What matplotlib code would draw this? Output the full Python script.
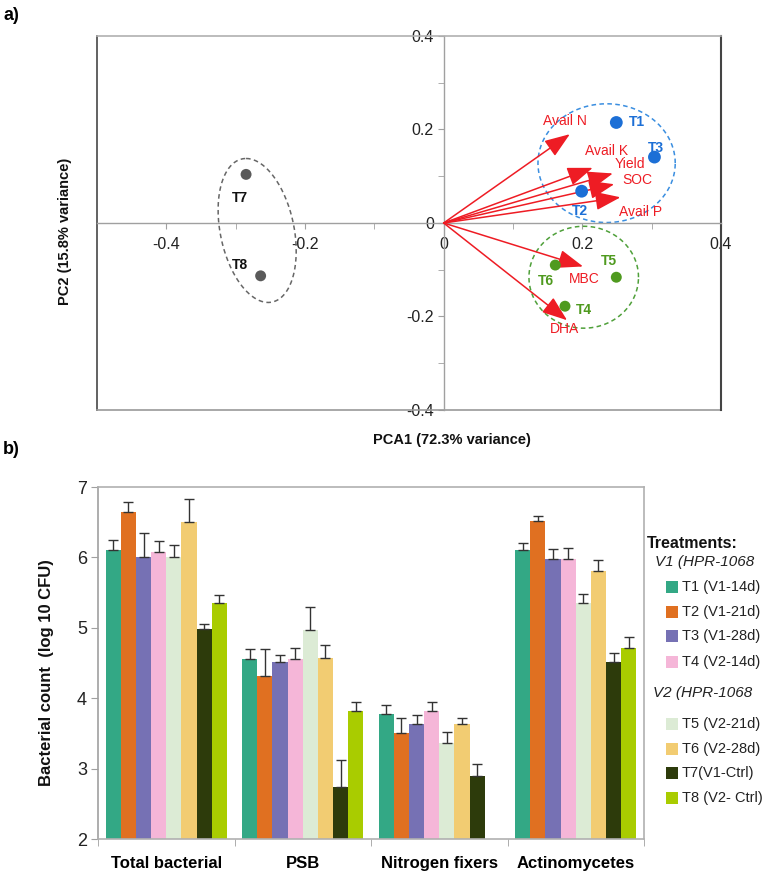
import numpy as np
import matplotlib
matplotlib.use('Agg')
import matplotlib.pyplot as plt
from matplotlib.patches import Rectangle

plt.rcParams['font.family'] = ['Liberation Sans', 'DejaVu Sans']
plt.rcParams['axes.unicode_minus'] = False

# ---------------- Panel a data (PCA biplot) ----------------
treat_names = ['T1', 'T2', 'T3', 'T4', 'T5', 'T6', 'T7', 'T8']
pc1 = [0.249, 0.199, 0.304, 0.175, 0.249, 0.161, -0.285, -0.264]
pc2 = [0.215, 0.068, 0.141, -0.178, -0.116, -0.090, 0.104, -0.113]
treat_cluster = [0, 0, 0, 1, 1, 1, 2, 2]

var_names = ['Avail N', 'Avail K', 'Yield', 'SOC', 'Avail P', 'MBC', 'DHA']
load1 = [0.182, 0.215, 0.244, 0.246, 0.255, 0.201, 0.178]
load2 = [0.190, 0.118, 0.106, 0.083, 0.055, -0.093, -0.208]

# ---------------- Panel b data (bar chart) ----------------
categories = ['Total bacterial', 'PSB', 'Nitrogen fixers', 'Actinomycetes']
series_labels = ['T1 (V1-14d)', 'T2 (V1-21d)', 'T3 (V1-28d)', 'T4 (V2-14d)',
                 'T5 (V2-21d)', 'T6 (V2-28d)', 'T7(V1-Ctrl)', 'T8 (V2- Ctrl)']
t1 = [6.10, 4.55, 3.77, 6.10]
t2 = [6.64, 4.31, 3.50, 6.51]
t3 = [6.00, 4.51, 3.64, 5.98]
t4 = [6.07, 4.55, 3.82, 5.98]
t5 = [6.00, 4.97, 3.36, 5.35]
t6 = [6.50, 4.57, 3.63, 5.81]
t7 = [4.98, 2.74, 2.90, 4.52]
t8 = [5.35, 3.82, np.nan, 4.71]
e1 = [0.15, 0.15, 0.14, 0.11]
e2 = [0.15, 0.39, 0.22, 0.08]
e3 = [0.34, 0.11, 0.12, 0.14]
e4 = [0.17, 0.16, 0.13, 0.15]
e5 = [0.17, 0.33, 0.16, 0.13]
e6 = [0.33, 0.19, 0.09, 0.16]
e7 = [0.07, 0.38, 0.16, 0.12]
e8 = [0.11, 0.13, np.nan, 0.16]
series_vals = [t1, t2, t3, t4, t5, t6, t7, t8]
series_errs = [e1, e2, e3, e4, e5, e6, e7, e8]

# ---------------- styles ----------------
cluster_colors = ['#1c6fd6', '#4f9a1f', '#5a5a5a']
cluster_sizes = [85, 62, 62]
treat_label_off = [(0.030, 0.0), (-0.002, -0.043), (0.002, 0.019), (0.0275, -0.008),
                   (-0.010, 0.035), (-0.014, -0.034), (-0.0095, -0.050), (-0.0305, 0.023)]
var_label_off = [(-0.007, 0.028), (0.020, 0.037), (0.025, 0.020), (0.033, 0.010),
                 (0.029, -0.031), (0.002, -0.0275), (-0.004, -0.018)]
# ellipses: centre, half-axis vector 1, half-axis vector 2 (data units)
ellipses = [((0.235, 0.128), (0.099, 0.0), (0.0, 0.127), '#3a8ee0'),
            ((0.202, -0.116), (0.079, 0.0), (0.0, 0.109), '#4fa03a'),
            ((-0.269, -0.016), (-0.016, 0.154), (0.054, 0.0), '#666666')]
bar_colors = ['#33a885', '#e07021', '#7671b4', '#f5b6d8', '#dcebd5', '#f2cc72', '#2d3b0b', '#a9cc00']

W, H = 767, 874
fig = plt.figure(figsize=(W / 100, H / 100), dpi=100)


def fx(x):
    return x / W


def fy(y):
    return 1 - y / H


# ================= Panel a =================
axL, axR, axT, axB = 97, 721, 36, 410
ax1 = fig.add_axes([fx(axL), fy(axB), (axR - axL) / W, (axB - axT) / H])
ax1.set_xlim(-0.5, 0.4)
ax1.set_ylim(-0.4, 0.4)
for s in ['left', 'bottom']:
    ax1.spines[s].set_position(('data', 0))
    ax1.spines[s].set_color('#a0a0a0')
    ax1.spines[s].set_linewidth(1.0)
ax1.spines['top'].set_color('#b0b0b0')
ax1.spines['right'].set_color('#444444')
ax1.spines['top'].set_linewidth(1.2)
ax1.spines['right'].set_linewidth(1.5)
# frame left/bottom edges
ax1.plot([0, 0], [0, 1], transform=ax1.transAxes, color='#555555', lw=1.3, clip_on=False)
ax1.plot([0, 1], [0, 0], transform=ax1.transAxes, color='#999999', lw=1.2, clip_on=False)

ax1.set_xticks([-0.4, -0.2, 0, 0.2, 0.4], ['-0.4', '-0.2', '0', '0.2', '0.4'])
ax1.set_xticks([-0.3, -0.1, 0.1, 0.3], minor=True)
ax1.set_yticks([-0.4, -0.2, 0, 0.2, 0.4], ['-0.4', '-0.2', '0', '0.2', '0.4'])
ax1.set_yticks([-0.3, -0.1, 0.1, 0.3], minor=True)
ax1.tick_params(axis='x', which='both', direction='out', length=4, color='#a0a0a0',
                labelsize=11.5, labelcolor='#222222', pad=6)
ax1.tick_params(axis='y', which='both', direction='out', length=4, color='#a0a0a0',
                labelsize=11.5, labelcolor='#222222', pad=3)

# ellipses
tt = np.linspace(0, 2 * np.pi, 300)
for (c, v1, v2, col) in ellipses:
    ex = c[0] + np.cos(tt) * v1[0] + np.sin(tt) * v2[0]
    ey = c[1] + np.cos(tt) * v1[1] + np.sin(tt) * v2[1]
    ax1.plot(ex, ey, color=col, lw=1.1, ls=(0, (3, 2.2)))

# arrows
for name, lx, ly, off in zip(var_names, load1, load2, var_label_off):
    ax1.annotate('', xy=(lx, ly), xytext=(0, 0),
                 arrowprops=dict(arrowstyle='-|>,head_length=1.3,head_width=0.48',
                                 mutation_scale=12, color='#ee1c24', lw=1.1,
                                 shrinkA=0, shrinkB=0))
    ax1.text(lx + off[0], ly + off[1], name, color='#ee1c24', fontsize=10,
             ha='center', va='center')

# points
for name, x, y, cl, off in zip(treat_names, pc1, pc2, treat_cluster, treat_label_off):
    ax1.scatter([x], [y], s=cluster_sizes[cl], color=cluster_colors[cl], zorder=5,
                edgecolors='none')
    tcol = cluster_colors[cl] if cl < 2 else '#111111'
    ax1.text(x + off[0], y + off[1], name, color=tcol, fontsize=10, fontweight='bold',
             ha='center', va='center')

fig.text(fx(65), fy(231), 'PC2 (15.8% variance)', rotation=90, ha='center', va='center',
         fontsize=10.5, fontweight='bold', color='#111111')
fig.text(fx(452), fy(440), 'PCA1 (72.3% variance)', ha='center', va='center',
         fontsize=10.5, fontweight='bold', color='#111111')
fig.text(fx(3), fy(16), 'a)', ha='left', va='center', fontsize=13, fontweight='bold')

# ================= Panel b =================
bL, bR, bT, bB = 98, 644, 487, 839
ax2 = fig.add_axes([fx(bL), fy(bB), (bR - bL) / W, (bB - bT) / H])
ax2.set_xlim(-0.5, len(categories) - 0.5)
ax2.set_ylim(2, 7)
bw = 0.111
xg = np.arange(len(categories))
for i, (vals, errs, col) in enumerate(zip(series_vals, series_errs, bar_colors)):
    xpos = xg + (i - 3.5) * bw
    vals = np.array(vals, dtype=float)
    errs = np.array(errs, dtype=float)
    ax2.bar(xpos, vals - 2, bottom=2, width=bw, color=col, edgecolor='none', zorder=2)
    ax2.errorbar(xpos, vals, yerr=[np.zeros_like(errs), errs], fmt='none',
                 ecolor='#333333', elinewidth=1.0, capsize=3.5, capthick=1.0, zorder=3)

for s in ax2.spines.values():
    s.set_color('#b0b0b0')
    s.set_linewidth(1.2)
ax2.spines['left'].set_color('#a0a0a0')
ax2.set_yticks([2, 3, 4, 5, 6, 7])
ax2.tick_params(axis='y', direction='out', length=5, color='#a0a0a0', labelsize=13,
                labelcolor='#222222', pad=3)
ax2.set_xticks(xg, categories)
ax2.set_xticks(np.arange(len(categories) + 1) - 0.5, minor=True)
ax2.tick_params(axis='x', which='major', length=0, labelsize=12, pad=12)
ax2.tick_params(axis='x', which='minor', direction='out', length=5, color='#a0a0a0')
for lab in ax2.get_xticklabels():
    lab.set_fontweight('bold')

fig.text(fx(47), fy(673), 'Bacterial count  (log 10 CFU)', rotation=90, ha='center',
         va='center', fontsize=12, fontweight='bold', color='#111111')
fig.text(fx(3), fy(450), 'b)', ha='left', va='center', fontsize=13, fontweight='bold')

# legend
fig.text(fx(647), fy(543), 'Treatments:', ha='left', va='center', fontsize=11.5,
         fontweight='bold', color='#111111')
fig.text(fx(655), fy(562), 'V1 (HPR-1068', ha='left', va='center', fontsize=11,
         style='italic', color='#222222')
fig.text(fx(653), fy(693), 'V2 (HPR-1068', ha='left', va='center', fontsize=11,
         style='italic', color='#222222')
leg_y = [587, 612, 636, 662, 724, 749, 773, 798]
for lab, col, yy in zip(series_labels, bar_colors, leg_y):
    fig.add_artist(Rectangle((fx(666), fy(yy + 6)), 11.5 / W, 12 / H, transform=fig.transFigure,
                             facecolor=col, edgecolor='none'))
    fig.text(fx(682), fy(yy), lab, ha='left', va='center', fontsize=10.5, color='#222222')

fig.savefig('out.png', dpi=100)
